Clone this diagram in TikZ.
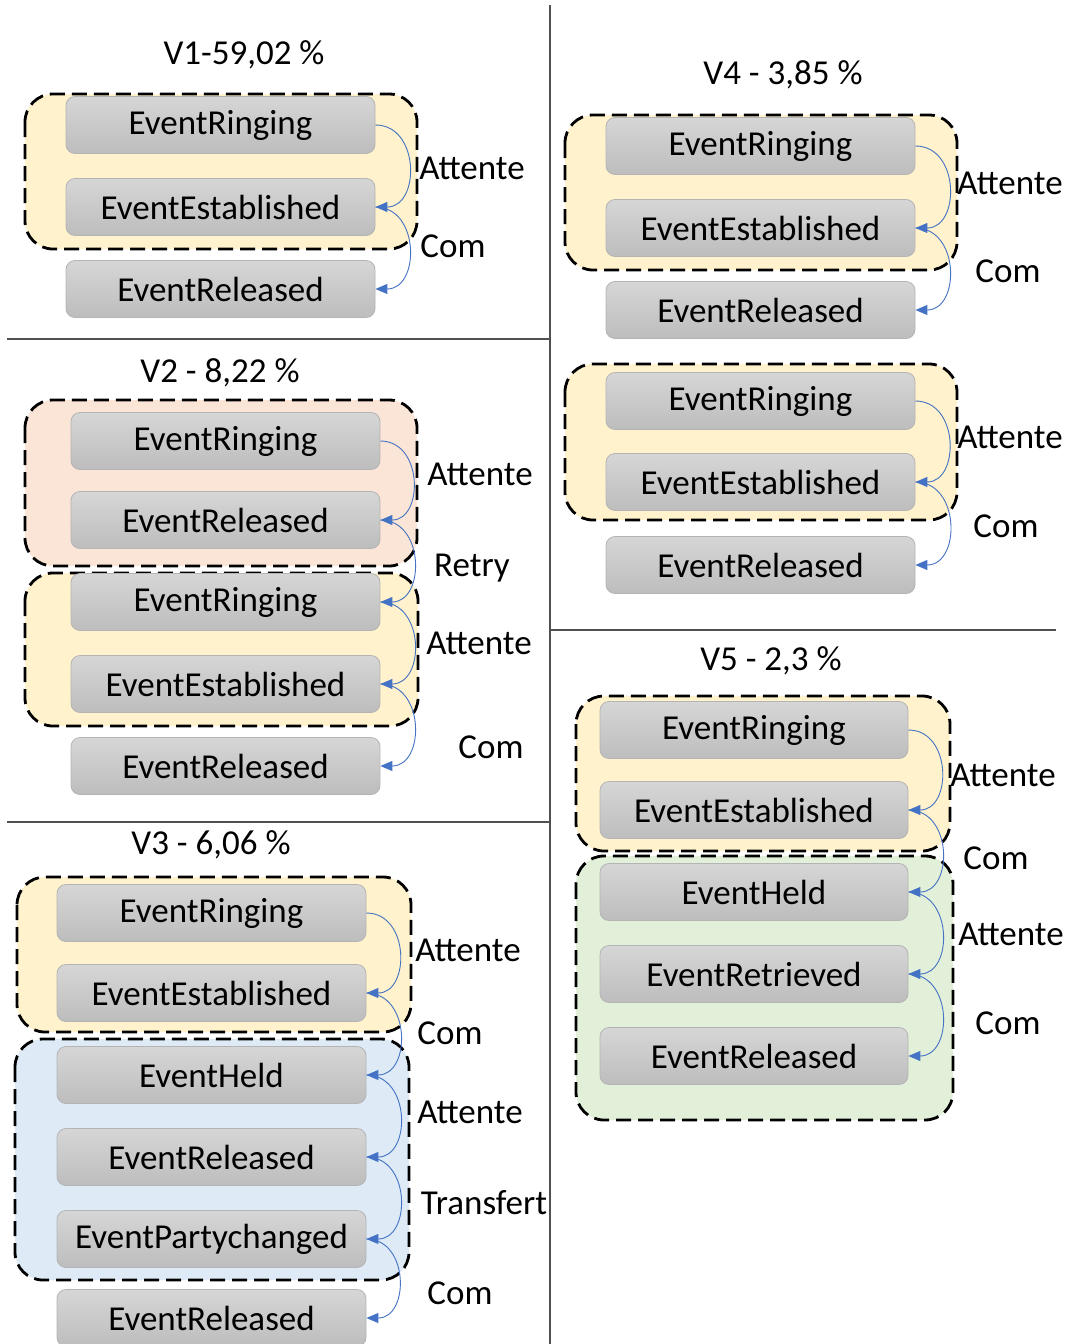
\documentclass[tikz,border=0pt]{standalone}
\usepackage{fontspec}
\setmainfont{Carlito}
\usetikzlibrary{arrows.meta}
\definecolor{grpyellow}{HTML}{FFF2CC}
\definecolor{grppink}{HTML}{FBE5D6}
\definecolor{grpblue}{HTML}{DEEBF7}
\definecolor{grpgreen}{HTML}{E2F0D9}
\definecolor{evtop}{HTML}{D6D6D6}
\definecolor{evbottom}{HTML}{BDBDBD}
\definecolor{evborder}{HTML}{B4B4B4}
\definecolor{flowblue}{HTML}{4472C4}
\definecolor{sepgray}{HTML}{505050}
\tikzset{
  txt/.style={font=\fontsize{35}{41}\selectfont},
  event/.style={txt, rounded corners=9pt, draw=evborder, line width=0.8pt,
    top color=evtop, bottom color=evbottom, minimum width=309pt,
    minimum height=57pt, inner sep=0pt, text=black},
  group/.style={draw=black, line width=2.8pt, dash pattern=on 15pt off 7pt,
    rounded corners=28pt},
  flow/.style={draw=flowblue, line width=0.9pt,
    -{Triangle[length=12pt,width=10pt]}, out=0, in=0, looseness=1.4},
  lbl/.style={txt, inner sep=0pt},
  sepline/.style={draw=sepgray, line width=1.6pt}
}
\begin{document}
\begin{tikzpicture}[x=1pt,y=-1pt]
\useasboundingbox (0,0) rectangle (1069,1344);

% panel separators
\draw[sepline] (550,5) -- (550,1344);
\draw[sepline] (7,339) -- (550,339);
\draw[sepline] (7,822) -- (550,822);
\draw[sepline] (550,630) -- (1056,630);

% ---------------- V1 ----------------
\node[lbl] (t1) at (244,55) {V1-59,02 \%};
\draw[group, fill=grpyellow] (25,94) rectangle (417,249);
\node[event] (v1a) at (220.5,125) {EventRinging};
\node[event] (v1b) at (220.5,207) {EventEstablished};
\node[event] (v1c) at (220.5,289) {EventReleased};
\draw[flow] (v1a.east) to (v1b.east);
\draw[flow] (v1b.east) to (v1c.east);
\node[lbl] (l1a) at (472,168) {Attente};
\node[lbl] (l1b) at (453,246) {Com};

% ---------------- V2 ----------------
\node[lbl] (t2) at (220,373) {V2 - 8,22 \%};
\draw[group, fill=grppink] (25,400) rectangle (417,566);
\draw[group, fill=grpyellow] (25,573) rectangle (418,726);
\node[event] (v2a) at (225.5,441) {EventRinging};
\node[event] (v2b) at (225.5,520) {EventReleased};
\node[event] (v2c) at (225.5,602) {EventRinging};
\node[event] (v2d) at (225.5,684) {EventEstablished};
\node[event] (v2e) at (225.5,766) {EventReleased};
\draw[flow] (v2a.east) to (v2b.east);
\draw[flow] (v2b.east) to (v2c.east);
\draw[flow] (v2c.east) to (v2d.east);
\draw[flow] (v2d.east) to (v2e.east);
\node[lbl] (l2a) at (480,474) {Attente};
\node[lbl] (l2b) at (472,568) {Retry};
\node[lbl] (l2c) at (479,643) {Attente};
\node[lbl] (l2d) at (491,747) {Com};

% ---------------- V3 ----------------
\node[lbl] (t3) at (211,845) {V3 - 6,06 \%};
\draw[group, fill=grpyellow] (17,877) rectangle (411,1032);
\draw[group, fill=grpblue] (15,1039) rectangle (409,1280);
\node[event] (v3a) at (211.5,913) {EventRinging};
\node[event] (v3b) at (211.5,993) {EventEstablished};
\node[event] (v3c) at (211.5,1075) {EventHeld};
\node[event] (v3d) at (211.5,1157) {EventReleased};
\node[event] (v3e) at (211.5,1239) {EventPartychanged};
\node[event] (v3f) at (211.5,1318) {EventReleased};
\draw[flow] (v3a.east) to (v3b.east);
\draw[flow] (v3b.east) to (v3c.east);
\draw[flow] (v3c.east) to (v3d.east);
\draw[flow] (v3d.east) to (v3e.east);
\draw[flow] (v3e.east) to (v3f.east);
\node[lbl] (l3a) at (468,950) {Attente};
\node[lbl] (l3b) at (450,1033) {Com};
\node[lbl] (l3c) at (470,1112) {Attente};
\node[lbl] (l3d) at (484,1203) {Transfert};
\node[lbl] (l3e) at (460,1293) {Com};

% ---------------- V4 ----------------
\node[lbl] (t4) at (783,75) {V4 - 3,85 \%};
\draw[group, fill=grpyellow] (565,115) rectangle (957,270);
\node[event] (v4a) at (760.5,146) {EventRinging};
\node[event] (v4b) at (760.5,228) {EventEstablished};
\node[event] (v4c) at (760.5,310) {EventReleased};
\draw[flow] (v4a.east) to (v4b.east);
\draw[flow] (v4b.east) to (v4c.east);
\node[lbl] (l4a) at (1010,183) {Attente};
\node[lbl] (l4b) at (1008,271) {Com};

\draw[group, fill=grpyellow] (565,364) rectangle (957,520);
\node[event] (v4d) at (760.5,401) {EventRinging};
\node[event] (v4e) at (760.5,482) {EventEstablished};
\node[event] (v4f) at (760.5,565) {EventReleased};
\draw[flow] (v4d.east) to (v4e.east);
\draw[flow] (v4e.east) to (v4f.east);
\node[lbl] (l4c) at (1010,437) {Attente};
\node[lbl] (l4d) at (1006,526) {Com};

% ---------------- V5 ----------------
\node[lbl] (t5) at (771,661) {V5 - 2,3 \%};
\draw[group, fill=grpyellow] (576,696) rectangle (950,851);
\draw[group, fill=grpgreen] (576,856) rectangle (953,1120);
\node[event, minimum width=308pt] (v5a) at (754,730) {EventRinging};
\node[event, minimum width=308pt] (v5b) at (754,810) {EventEstablished};
\node[event, minimum width=308pt] (v5c) at (754,892) {EventHeld};
\node[event, minimum width=308pt] (v5d) at (754,974) {EventRetrieved};
\node[event, minimum width=308pt] (v5e) at (754,1056) {EventReleased};
\draw[flow] (v5a.east) to (v5b.east);
\draw[flow] (v5b.east) to (v5c.east);
\draw[flow] (v5c.east) to (v5d.east);
\draw[flow] (v5d.east) to (v5e.east);
\node[lbl] (l5a) at (1003,775) {Attente};
\node[lbl] (l5b) at (996,858) {Com};
\node[lbl] (l5c) at (1011,934) {Attente};
\node[lbl] (l5d) at (1008,1023) {Com};
\end{tikzpicture}
\end{document}
